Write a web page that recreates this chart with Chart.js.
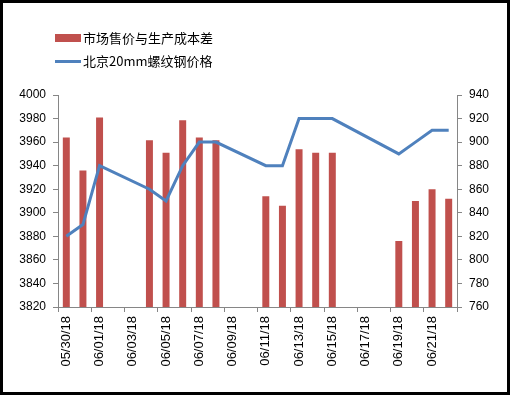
<!DOCTYPE html>
<html>
<head>
<meta charset="utf-8">
<script src="https://cdn.jsdelivr.net/npm/chart.js@4.4.1/dist/chart.umd.min.js"></script>
<style>
  html, body { margin: 0; padding: 0; background: #fff; }
  #wrap { position: relative; width: 512px; height: 397px; overflow: hidden; }
  #frame { position: absolute; left: 0; top: 0; width: 504px; height: 389px; border: 3px solid #000; pointer-events: none; }
  canvas { position: absolute; left: 0; top: 0; }
  .lg { position: absolute; left: 55px; font-family: "Noto Sans CJK SC", sans-serif; font-size: 13px; color: #000; white-space: nowrap; }
  .lg span.sw { position: absolute; left: 0; }
  .lg span.tx { position: absolute; left: 28px; line-height: 16px; }
</style>
</head>
<body>
<div id="wrap">
  <canvas id="c" width="512" height="397"></canvas>
  <div id="legend"></div>
  <div id="frame"></div>
</div>
<script>
// ---- data ----
const categories = ["05/30/18","05/31/18","06/01/18","06/02/18","06/03/18","06/04/18","06/05/18","06/06/18",
  "06/07/18","06/08/18","06/09/18","06/10/18","06/11/18","06/12/18","06/13/18","06/14/18","06/15/18",
  "06/16/18","06/17/18","06/18/18","06/19/18","06/20/18","06/21/18","06/22/18"];
const spreadLabel = "市场售价与生产成本差";
const spreadValues = [904, 876, 921, null, null, 901.5, 891, 918.5, 904, 901.5, null, null,
  854, 846, 894, 891, 891, null, null, null, 816, 850, 860, 852];
const priceLabel = "北京20mm螺纹钢价格";
const priceValues = [3880, 3890, 3940, null, null, 3920, 3910, 3940, 3960, 3960, null, null,
  3940, 3940, 3980, 3980, 3980, null, null, null, 3950, 3960, 3970, 3970];
const leftTicks = {min: 3820, max: 4000, step: 20};
const rightTicks = {min: 760, max: 940, step: 20};

const RED = '#C0504D', BLUE = '#4F81BD', AXIS = '#868686';
const tickFont = {family: 'Arial, "Liberation Sans", sans-serif', size: 12};
const xFont = {family: 'Arial, "Liberation Sans", sans-serif', size: 13};

// legend (HTML, built from dataset labels)
const legend = document.getElementById('legend');
legend.innerHTML =
  '<div class="lg" style="top:30px"><span class="sw" style="top:4px;width:26px;height:8px;background:' + RED + '"></span><span class="tx" style="top:0">' + spreadLabel + '</span></div>' +
  '<div class="lg" style="top:53px"><span class="sw" style="top:6.5px;width:26px;height:3px;background:' + BLUE + '"></span><span class="tx" style="top:0">' + priceLabel + '</span></div>';

new Chart(document.getElementById('c'), {
  type: 'bar',
  data: {
    labels: categories,
    datasets: [
      {
        type: 'line', label: priceLabel, data: priceValues, yAxisID: 'y',
        borderColor: BLUE, backgroundColor: BLUE, borderWidth: 3,
        pointRadius: 0, tension: 0, spanGaps: true, order: 0
      },
      {
        type: 'bar', label: spreadLabel, data: spreadValues, yAxisID: 'y1',
        backgroundColor: RED, categoryPercentage: 1, barPercentage: 0.42, order: 1
      }
    ]
  },
  options: {
    responsive: false,
    animation: false,
    devicePixelRatio: 1,
    layout: {padding: {top: 95, left: 0, right: 0, bottom: 0}},
    plugins: {legend: {display: false}, tooltip: {enabled: false}},
    scales: {
      x: {
        type: 'category',
        offset: true,
        grid: {
          offset: true, drawOnChartArea: false, tickLength: 5,
          color: (ctx) => (ctx.index === undefined || ctx.index % 2 === 0) ? AXIS : 'rgba(0,0,0,0)'
        },
        border: {color: AXIS},
        ticks: {
          autoSkip: false, minRotation: 90, maxRotation: 90, padding: 4,
          color: '#000', font: xFont,
          callback: function (v, i) { return i % 2 === 0 ? categories[i] : ''; }
        },
        afterFit: (s) => { s.height = 90; }
      },
      y: {
        position: 'left', min: leftTicks.min, max: leftTicks.max,
        grid: {drawOnChartArea: false, tickLength: 5, color: AXIS},
        border: {color: AXIS},
        ticks: {stepSize: leftTicks.step, color: '#000', font: tickFont, padding: 7,
          callback: (v) => String(v)},
        afterFit: (s) => { s.width = 58; }
      },
      y1: {
        position: 'right', min: rightTicks.min, max: rightTicks.max,
        grid: {drawOnChartArea: false, tickLength: 5, color: AXIS},
        border: {color: AXIS},
        ticks: {stepSize: rightTicks.step, color: '#000', font: tickFont, padding: 7,
          callback: (v) => String(v)},
        afterFit: (s) => { s.width = 55; }
      }
    }
  },
  plugins: [{
    id: 'bg',
    beforeDraw(chart) {
      const c = chart.ctx; c.save(); c.fillStyle = '#fff'; c.fillRect(0, 0, chart.width, chart.height); c.restore();
    }
  }]
});
</script>
</body>
</html>
